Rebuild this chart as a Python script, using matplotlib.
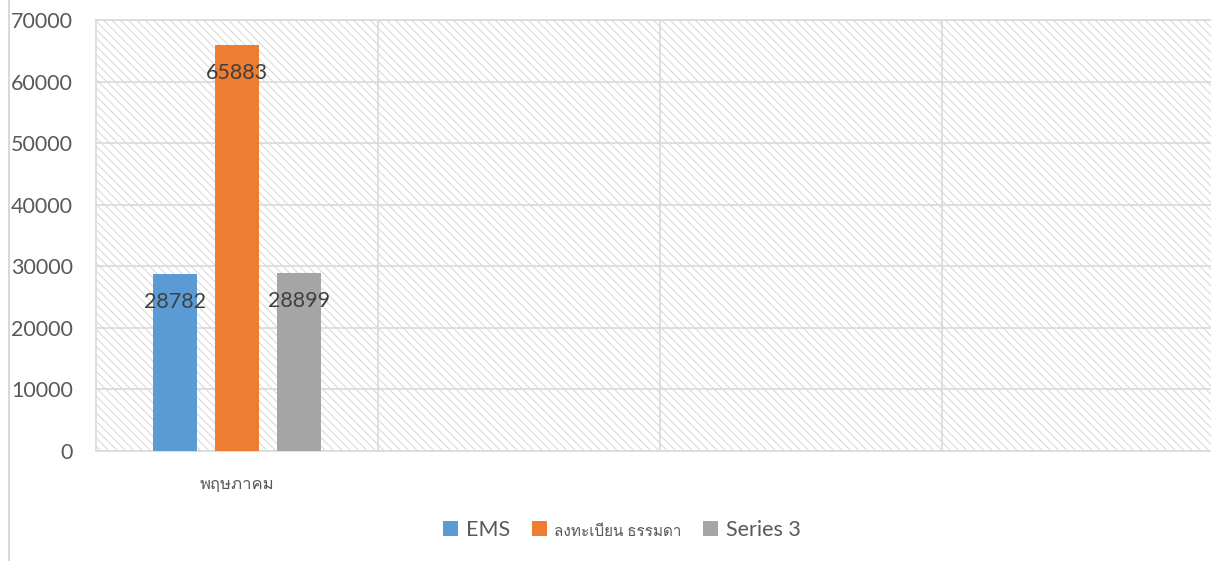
import matplotlib
matplotlib.use("Agg")
import matplotlib.pyplot as plt
from matplotlib import font_manager, ft2font
from matplotlib.patches import Rectangle

# data
categories = ["พฤษภาคม", "", "", ""]
series_names = ["EMS", "ลงทะเบียน ธรรมดา", "Series 3"]
series_values = [[28782], [65883], [28899]]
colors = ["#5B9BD5", "#ED7D31", "#A5A5A5"]
yticks = [0, 10000, 20000, 30000, 40000, 50000, 60000, 70000]


def find_thai_font():
    # pick the first installed family that has Thai glyphs
    for f in font_manager.fontManager.ttflist:
        try:
            cmap = ft2font.FT2Font(f.fname).get_charmap()
        except Exception:
            continue
        if 0x0E1E in cmap and 0x0E21 in cmap:
            return f.name
    return None


thai = find_thai_font()
base = ["Lato", "DejaVu Sans"]
fam = base + ([thai] if thai else [])
plt.rcParams["font.family"] = fam
plt.rcParams["hatch.linewidth"] = 0.8
txt = "#595959"
grid_c = "#d9d9d9"

fig = plt.figure(figsize=(12.11, 5.61), dpi=100)
ax = fig.add_axes([96 / 1211, 110 / 561, 1128 / 1211, 431 / 561])

# hatched plot area
bg = Rectangle((0, 0), 1, 1, transform=ax.transAxes, facecolor="white",
               edgecolor="#dadada", hatch="\\\\\\\\", linewidth=0, zorder=0)
ax.add_patch(bg)

offsets = [-0.22, 0.0, 0.22]
width = 0.156
for name, vals, c, off in zip(series_names, series_values, colors, offsets):
    xs = [i + off for i in range(len(vals))]
    bars = ax.bar(xs, vals, width=width, color=c, label=name, zorder=3)
    for b, v in zip(bars, vals):
        ax.annotate(str(v), (b.get_x() + b.get_width() / 2, v),
                    xytext=(0, -28), textcoords="offset pixels",
                    ha="center", va="center", fontsize=15.5, color="#404040",
                    zorder=4)

ax.set_xlim(-0.5, len(categories) - 0.5)
ax.set_ylim(0, 70000)
ax.set_yticks(yticks)
ax.set_yticklabels([str(t) for t in yticks])
ax.set_xticks(range(len(categories)))
ax.set_xticklabels(categories, fontsize=12, color=txt)
ax.set_xticks([i + 0.5 for i in range(len(categories) - 1)], minor=True)
ax.tick_params(axis="y", length=0, pad=16.5, labelsize=15.5, labelcolor=txt)
ax.tick_params(axis="x", which="both", length=0, pad=18)

ax.grid(axis="y", color=grid_c, linewidth=1.2, zorder=1)
ax.grid(axis="x", which="minor", color=grid_c, linewidth=1.2, zorder=1)
for s in ax.spines.values():
    s.set_color(grid_c)
    s.set_linewidth(1.2)
ax.set_axisbelow(True)

# chart border on the left
fig.add_artist(plt.Line2D([8.5 / 1211, 8.5 / 1211], [0, 1],
                          transform=fig.transFigure, color=grid_c, linewidth=1.5))

leg = fig.legend(loc="center", bbox_to_anchor=(622 / 1211, 1 - 530 / 561),
                 ncol=3, frameon=False, fontsize=15.5, handlelength=0.7,
                 handleheight=0.7, handletextpad=0.35, columnspacing=1.0)
for t in leg.get_texts():
    t.set_color(txt)
leg.get_texts()[1].set_fontsize(11)

fig.savefig("out.png", dpi=100)
